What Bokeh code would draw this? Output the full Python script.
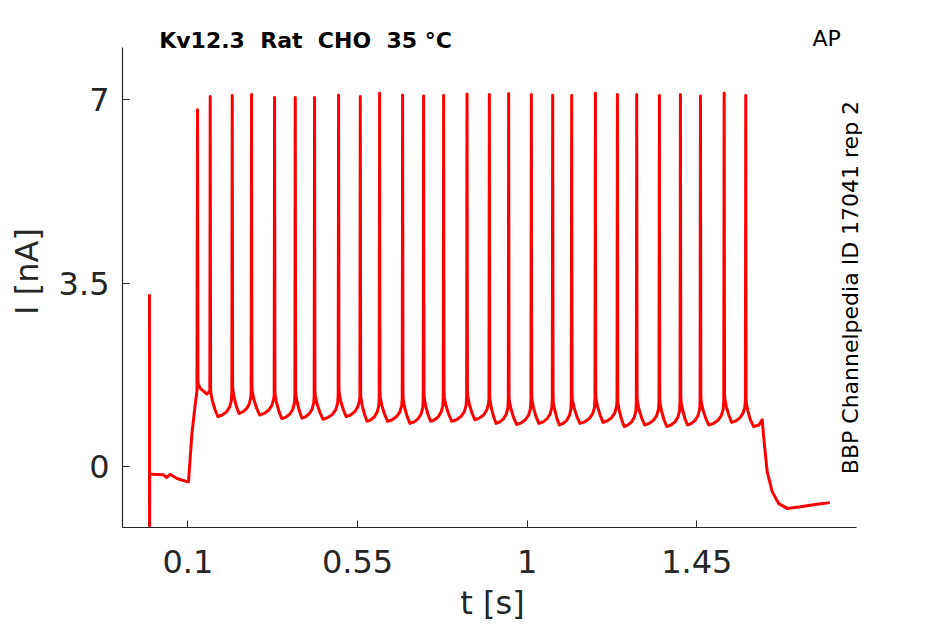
import math
from bokeh.plotting import figure
from bokeh.models import FixedTicker, Label, Range1d
from bokeh.embed import file_html
from bokeh.resources import INLINE

# ---- data ----
x_ticks = [0.1, 0.55, 1.0, 1.45]
x_tick_labels = ["0.1", "0.55", "1", "1.45"]
y_ticks = [0.0, 3.5, 7.0]
y_tick_labels = ["0", "3.5", "7"]

# before the step (t in s, I in nA)
pre_t = [-0.0020, -0.0017, -0.0014, 0.0050, 0.0350, 0.0440, 0.0530, 0.0710, 0.0974, 0.1016, 0.1107, 0.1194, 0.1240]
pre_I = [3.29, -1.12, -0.14, -0.14, -0.15, -0.20, -0.14, -0.22, -0.28, -0.28, 0.64, 1.19, 1.45]

# spike times, peaks, the trough after each spike and the level where each spike starts
spike_t = [0.1255, 0.1592, 0.2176, 0.2688, 0.3299, 0.3848, 0.4360, 0.4997, 0.5573,
           0.6085, 0.6696, 0.7253, 0.7784, 0.8405, 0.8997, 0.9509, 1.0111, 1.0677,
           1.1181, 1.1810, 1.2394, 1.2906, 1.3508, 1.4066, 1.4597, 1.5226, 1.5799]
spike_peak = [6.81, 7.06, 7.08, 7.10, 7.04, 7.04, 7.04, 7.09, 7.06, 7.13, 7.09, 7.07,
              7.08, 7.11, 7.10, 7.12, 7.10, 7.09, 7.08, 7.13, 7.10, 7.10, 7.08, 7.10,
              7.07, 7.13, 7.08]
trough_I = [1.39, 0.96, 1.02, 0.99, 0.92, 0.93, 0.91, 0.96, 0.87, 0.87, 0.83, 0.87,
            0.87, 0.90, 0.83, 0.81, 0.83, 0.80, 0.83, 0.85, 0.77, 0.80, 0.77, 0.80,
            0.80, 0.85, 0.77]
threshold_I = [1.50, 1.44, 1.45, 1.42, 1.38, 1.36, 1.36, 1.38, 1.33, 1.33, 1.32, 1.33,
               1.33, 1.33, 1.31, 1.30, 1.30, 1.30, 1.30, 1.31, 1.28, 1.28, 1.26, 1.27,
               1.27, 1.28, 1.28]

# after the step
post_t = [1.6010, 1.6150, 1.6234, 1.6277, 1.6367, 1.6500, 1.6675, 1.6897, 1.7250, 1.7690, 1.8030]
post_I = [0.77, 0.80, 0.90, 0.55, -0.09, -0.47, -0.70, -0.79, -0.76, -0.71, -0.68]

# shape of one inter-spike interval: (fraction of interval, level above the trough)
isi_frac = [0.03, 0.10, 0.22, 0.35, 0.55, 0.74, 0.88, 0.96]
isi_rise = [0.45, 0.30, 0.13, 0.00, 0.03, 0.09, 0.18, 0.30]

# ---- build the trace polyline from the read values ----
ts_all = list(pre_t)
is_all = list(pre_I)
n = len(spike_t)
for i in range(n):
    t0 = spike_t[i]
    if i > 0:
        ts_all.append(t0 - 0.0010)
        is_all.append(threshold_I[i])
    ts_all.append(t0)
    is_all.append(spike_peak[i])
    if i == 0:
        ts_all += [t0 + 0.0012, 0.1327, 0.1505, spike_t[1] - 0.0025]
        is_all += [1.60, 1.50, 1.39, 1.44]
        continue
    ts_all.append(t0 + 0.0010)
    is_all.append(trough_I[i] + 0.55)
    if i < n - 1:
        T = spike_t[i + 1] - t0
        for f, r in zip(isi_frac, isi_rise):
            ts_all.append(t0 + f * T)
            is_all.append(trough_I[i] + r)
    else:
        T = 0.055
        for f, r in zip(isi_frac[:3], isi_rise[:3]):
            ts_all.append(t0 + f * T)
            is_all.append(trough_I[i] + r)
ts_all += post_t
is_all += post_I

dark = "#262626"
p = figure(width=940, height=624, x_range=Range1d(-0.0735, 1.8896), y_range=Range1d(-1.154, 8.605),
           output_backend="svg", toolbar_location=None,
           min_border_left=122, min_border_right=78, min_border_top=15, min_border_bottom=96)
p.grid.visible = False
p.outline_line_color = None
p.background_fill_color = "white"
p.border_fill_color = "white"

p.line(ts_all, is_all, line_color="#ff0000", line_width=3, line_join="round")

p.xaxis.ticker = FixedTicker(ticks=x_ticks)
p.xaxis.major_label_overrides = {t: s for t, s in zip(x_ticks, x_tick_labels)}
p.xaxis.bounds = (-0.0735, 1.8737)
p.yaxis.ticker = FixedTicker(ticks=y_ticks)
p.yaxis.major_label_overrides = {t: s for t, s in zip(y_ticks, y_tick_labels)}
p.yaxis.bounds = (-1.154, 8.0)
for ax in (p.xaxis[0], p.yaxis[0]):
    ax.axis_line_color = dark
    ax.axis_line_width = 1.2
    ax.major_tick_line_color = dark
    ax.major_tick_in = 7
    ax.major_tick_out = 0
    ax.minor_tick_line_color = None
    ax.major_label_text_font = "DejaVu Sans"
    ax.major_label_text_font_size = "32px"
    ax.major_label_text_color = dark
    ax.major_label_text_line_height = 1.0
    ax.axis_label_text_font = "DejaVu Sans"
    ax.axis_label_text_font_size = "32px"
    ax.axis_label_text_font_style = "normal"
    ax.axis_label_text_color = dark
    ax.axis_label_text_line_height = 1.0
p.xaxis.axis_label = "t [s]"
p.yaxis.axis_label = "I [nA]"
p.xaxis.major_label_standoff = 22
p.yaxis.major_label_standoff = 13
p.xaxis.axis_label_standoff = 8
p.yaxis.axis_label_standoff = 10

p.add_layout(Label(x=0.0239, y=8.133, text="Kv12.3\u00a0 Rat\u00a0 CHO\u00a0 35 °C", text_font="DejaVu Sans",
                   text_font_style="bold", text_font_size="22px", text_color="black",
                   text_align="left", text_baseline="middle"))
p.add_layout(Label(x=1.757, y=8.166, text="AP", text_font="DejaVu Sans",
                   text_font_size="22px", text_color="black",
                   text_align="left", text_baseline="middle"))
p.add_layout(Label(x=1.857, y=3.42, text="BBP Channelpedia ID 17041 rep 2", text_font="DejaVu Sans",
                   text_font_size="22px", text_color="black", angle=math.pi / 2,
                   text_align="center", text_baseline="middle"))

open("out.html", "w").write(file_html(p, INLINE))
